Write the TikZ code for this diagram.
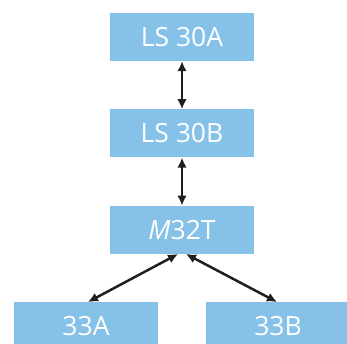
\documentclass[tikz,border=0pt]{standalone}
\usepackage{fontspec}
\setmainfont{Open Sans}
\usetikzlibrary{positioning,arrows.meta}
\definecolor{boxblue}{HTML}{86C1E8}

\begin{document}
\begin{tikzpicture}[x=1pt, y=1pt, node distance=48pt,
		unit/.style={fill=boxblue, text=white, minimum width=144pt, minimum height=48pt, inner sep=0pt, font=\fontsize{26.5}{26}\selectfont},
		link/.style={{Latex[length=10pt,width=9.5pt]}-{Latex[length=10pt,width=9.5pt]}, line width=2.5pt, draw=black!88}]
		\clip (0,0) rectangle (347,343);
		\node [unit] (LSA) at (182,306) {LS 30A};
		\node [unit, below=of LSA] (LSB) {LS 30B};
		\node [unit, below=of LSB] (M) {\textit{M}32T};
		\node [unit, below=of M, xshift=-96pt] (A) {33A};
		\node [unit, below=of M, xshift=96pt] (B) {33B};

		\draw[link] (LSA) -- (LSB);
		\draw[link] (LSB) -- (M);
		\draw[link] ([xshift=2pt]A.north) -- ([xshift=-4pt]M.south);
		\draw[link] ([xshift=-1pt]B.north) -- ([xshift=4pt]M.south);
	\end{tikzpicture}
\end{document}
